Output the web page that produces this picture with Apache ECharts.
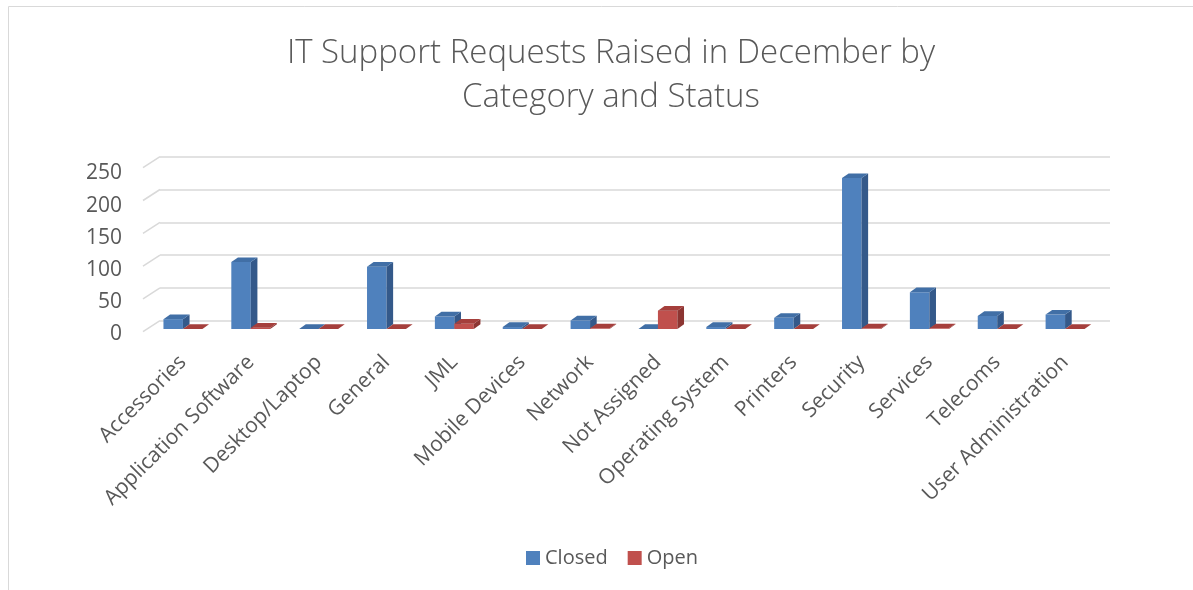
<!DOCTYPE html>
<html>
<head>
<meta charset="utf-8">
<title>IT Support Requests</title>
<script src="https://cdn.jsdelivr.net/npm/echarts@6/dist/echarts.min.js"></script>
<style>
  html, body { margin: 0; padding: 0; background: #fff; }
  #chart { width: 1193px; height: 590px; }
</style>
</head>
<body>
<div id="chart"></div>
<script>
// data
const categories = [
  'Accessories', 'Application Software', 'Desktop/Laptop', 'General', 'JML',
  'Mobile Devices', 'Network', 'Not Assigned', 'Operating System', 'Printers',
  'Security', 'Services', 'Telecoms', 'User Administration'
]
const closedValues = [15, 102, 0, 95, 19, 3, 13, 0, 3, 17, 230, 56, 20, 22]
const openValues = [0, 2, 0, 0, 8, 0, 1, 28, 0, 0, 1, 1, 0, 0]
const yTicks = [0, 50, 100, 150, 200, 250]
const yMax = 250
const yStep = 50

const textColor = '#595959'
const font = '"Open Sans", "Liberation Sans", sans-serif'

// faces: front, side, top
const blueFaces = ['#4f81bd', '#34598a', '#416fa6']
const redFaces = ['#c0504d', '#8c3532', '#a53f3c']

// 3d-looking column, side 0 = left of category centre, 1 = right
function bar3d(side, faces) {
  return function (params, api) {
    const idx = api.value(0)
    const val = api.value(1)
    const base = api.coord([idx, 0])
    const top = api.coord([idx, val])
    const cw = api.size([1, 0])[0]
    const w = cw * 0.287
    const dx = w * 0.34
    const dy = w * 0.24
    const x0 = side === 0 ? base[0] - w : base[0]
    const x1 = x0 + w
    const yb = base[1]
    const yt = top[1]
    return {
      type: 'group',
      children: [
        {
          type: 'rect',
          shape: { x: x0, y: yt, width: w, height: yb - yt },
          style: { fill: faces[0] }
        },
        {
          type: 'polygon',
          shape: { points: [[x1, yb], [x1 + dx, yb - dy], [x1 + dx, yt - dy], [x1, yt]] },
          style: { fill: faces[1] }
        },
        {
          type: 'polygon',
          shape: { points: [[x0, yt], [x0 + dx, yt - dy], [x1 + dx, yt - dy], [x1, yt]] },
          style: { fill: faces[2] }
        }
      ]
    }
  }
}

// slanted left edge of each gridline (floor depth)
function wallEdge(params, api) {
  const p = api.coord([0, api.value(0)])
  const x = params.coordSys.x
  return {
    type: 'line',
    shape: { x1: x - 17, y1: p[1] + 11, x2: x, y2: p[1] },
    style: { stroke: '#d9d9d9', lineWidth: 1.5 }
  }
}

const chart = echarts.init(document.getElementById('chart'))

const option = {
  animation: false,
  color: [blueFaces[0], redFaces[0]],
  title: {
    text: 'IT Support Requests Raised in December by\nCategory and Status',
    left: 606,
    textAlign: 'center',
    top: 27,
    textStyle: {
      fontFamily: font,
      fontWeight: 300,
      fontSize: 33,
      lineHeight: 44,
      color: textColor
    }
  },
  legend: {
    data: ['Closed', 'Open'],
    left: 521,
    top: 543,
    icon: 'rect',
    itemWidth: 14,
    itemHeight: 14,
    itemGap: 20,
    textStyle: { fontFamily: font, fontSize: 20, color: textColor }
  },
  graphic: [
    {
      type: 'rect',
      shape: { x: 8.5, y: 6.5, width: 1300, height: 700 },
      style: { fill: null, stroke: '#d9d9d9', lineWidth: 1 },
      silent: true,
      z: -10
    }
  ],
  grid: [
    // back wall
    { left: 160, right: 83, top: 156.7, bottom: 269.3 },
    // bars
    { left: 149, right: 94, top: 165, bottom: 261 },
    // front plane, value labels
    { left: 143, right: 94, top: 173.5, bottom: 256 }
  ],
  xAxis: [
    { gridIndex: 0, type: 'category', data: categories, show: false },
    {
      gridIndex: 1,
      type: 'category',
      data: categories,
      axisLine: { show: false },
      axisTick: { show: false },
      axisLabel: {
        interval: 0,
        rotate: 45,
        margin: 30,
        fontFamily: font,
        fontSize: 21,
        color: textColor
      }
    },
    { gridIndex: 2, type: 'category', data: categories, show: false }
  ],
  yAxis: [
    {
      gridIndex: 0,
      type: 'value',
      min: 0,
      max: yMax,
      interval: yStep,
      axisLabel: { show: false },
      axisLine: { show: false },
      axisTick: { show: false },
      splitLine: { lineStyle: { color: '#d9d9d9', width: 1.5 } }
    },
    {
      gridIndex: 1,
      type: 'value',
      min: 0,
      max: yMax,
      interval: yStep,
      show: false
    },
    {
      gridIndex: 2,
      type: 'value',
      min: 0,
      max: yMax,
      interval: yStep,
      axisLine: { show: false },
      axisTick: { show: false },
      splitLine: { show: false },
      axisLabel: {
        margin: 21,
        fontFamily: font,
        fontSize: 21,
        color: textColor
      }
    }
  ],
  series: [
    {
      name: 'edges',
      type: 'custom',
      xAxisIndex: 0,
      yAxisIndex: 0,
      silent: true,
      renderItem: wallEdge,
      data: yTicks.map(v => [v])
    },
    {
      name: 'Closed',
      type: 'custom',
      xAxisIndex: 1,
      yAxisIndex: 1,
      itemStyle: { color: blueFaces[0] },
      renderItem: bar3d(0, blueFaces),
      encode: { x: 0, y: 1 },
      data: closedValues.map((v, i) => [i, v])
    },
    {
      name: 'Open',
      type: 'custom',
      xAxisIndex: 1,
      yAxisIndex: 1,
      itemStyle: { color: redFaces[0] },
      renderItem: bar3d(1, redFaces),
      encode: { x: 0, y: 1 },
      data: openValues.map((v, i) => [i, v])
    }
  ]
}

chart.setOption(option)
</script>
</body>
</html>
